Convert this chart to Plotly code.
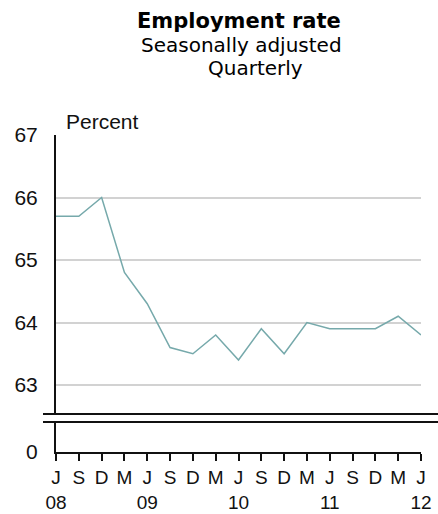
import plotly.graph_objects as go
from plotly.subplots import make_subplots

# Quarterly employment rate, June 2008 to June 2012 (percent, seasonally adjusted)
months = ["J", "S", "D", "M", "J", "S", "D", "M", "J", "S", "D", "M", "J", "S", "D", "M", "J"]
years = ["08", "", "", "", "09", "", "", "", "10", "", "", "", "11", "", "", "", "12"]
rate = [65.7, 65.7, 66.0, 64.8, 64.3, 63.6, 63.5, 63.8, 63.4, 63.9, 63.5, 64.0, 63.9, 63.9, 63.9, 64.1, 63.8]
y_ticks = [63, 64, 65, 66, 67]

W, H = 438, 514
L, R, T, B = 56, 17, 135, 62
plot_h = H - T - B


def py(pixel_y):
    """Convert a pixel row (from the top of the page) into paper y."""
    return (H - B - pixel_y) / plot_h


def px(pixel_x):
    return (pixel_x - L) / (W - L - R)


FONT = "Liberation Sans, Arial, sans-serif"
TITLE_FONT = "DejaVu Sans, Verdana, sans-serif"
positions = list(range(len(rate)))
ticktext = [m + ("<br>" + y if y else "") for m, y in zip(months, years)]

fig = make_subplots(rows=2, cols=1, shared_xaxes=False, vertical_spacing=0)

fig.add_trace(
    go.Scatter(x=positions, y=rate, mode="lines",
               line=dict(color="#76a9ab", width=1.5), hoverinfo="x+y",
               showlegend=False),
    row=1, col=1,
)
# invisible trace so the lower (broken-axis) panel has data
fig.add_trace(
    go.Scatter(x=positions, y=[None] * len(positions), mode="lines", showlegend=False),
    row=2, col=1,
)

fig.update_layout(
    width=W, height=H,
    margin=dict(l=L, r=R, t=T, b=B, autoexpand=False),
    paper_bgcolor="white", plot_bgcolor="white",
    font=dict(family=FONT, size=20, color="#111111"),
    xaxis=dict(domain=[0, 1], range=[0, len(rate) - 1], showline=False, showgrid=False,
               zeroline=False, showticklabels=False, ticks="", automargin=False),
    yaxis=dict(domain=[py(414), 1], range=[67 - (414 - 135) / 62.5, 67],
               tickvals=y_ticks, ticktext=[str(v) for v in y_ticks],
               showgrid=True, gridcolor="#d2d2d2", gridwidth=1.5,
               showline=True, linecolor="#111111", linewidth=2,
               zeroline=False, ticks="", ticklabelstandoff=12, automargin=False,
               tickfont=dict(size=21)),
    xaxis2=dict(domain=[0, 1], range=[0, len(rate) - 1], anchor="y2",
                tickvals=positions, ticktext=ticktext, tickangle=0,
                showline=True, linecolor="#111111", linewidth=2,
                ticks="outside", ticklen=7, tickwidth=2, tickcolor="#111111",
                showgrid=False, zeroline=False, automargin=False,
                tickfont=dict(size=19)),
    yaxis2=dict(domain=[0, py(422)], range=[0, 1], tickvals=[0], ticktext=["0"],
                showline=True, linecolor="#111111", linewidth=2,
                showgrid=False, zeroline=False, ticks="", ticklabelstandoff=12,
                automargin=False, tickfont=dict(size=21)),
)

# double break lines across the axis
for yb in (414, 422):
    fig.add_shape(type="line", xref="paper", yref="paper",
                  x0=px(43), x1=px(W + 5), y0=py(yb), y1=py(yb),
                  line=dict(color="#111111", width=2))

annotations = [
    dict(text="<b>Employment rate</b>", x=px(239), y=py(21), size=21),
    dict(text="Seasonally adjusted", x=px(241), y=py(45), size=20),
    dict(text="Quarterly", x=px(255), y=py(68), size=20),
]
for a in annotations:
    fig.add_annotation(text=a["text"], xref="paper", yref="paper", x=a["x"], y=a["y"],
                       xanchor="center", yanchor="middle", showarrow=False,
                       font=dict(family=TITLE_FONT, size=a["size"], color="#000000"))

fig.add_annotation(text="Percent", xref="paper", yref="paper", x=px(64), y=py(121),
                   xanchor="left", yanchor="middle", showarrow=False,
                   font=dict(family=FONT, size=21, color="#111111"))

fig.write_html("out.html")
